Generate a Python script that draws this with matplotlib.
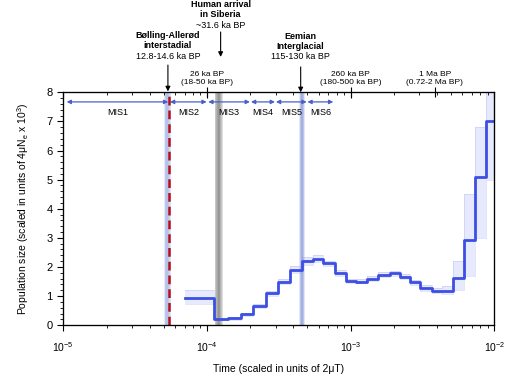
import numpy as np
import matplotlib
matplotlib.use("Agg")
from matplotlib import pyplot as plt
from matplotlib.ticker import MultipleLocator, LogLocator, NullFormatter, NullLocator

plt.rcParams['font.family'] = ['Liberation Sans', 'DejaVu Sans']
plt.rcParams['mathtext.fontset'] = 'custom'
plt.rcParams['mathtext.rm'] = 'Liberation Sans'
plt.rcParams['mathtext.it'] = 'Liberation Sans:italic'
plt.rcParams['mathtext.bf'] = 'Liberation Sans:bold'

# ---------------------------------------------------------
# data
# ---------------------------------------------------------

# start of each step (scaled time, 2uT) and the population size on it
step_t = [7.03e-5, 1.124e-4, 1.406e-4, 1.724e-4, 2.10e-4, 2.574e-4, 3.134e-4,
          3.781e-4, 4.56e-4, 5.49e-4, 6.45e-4, 7.77e-4, 9.27e-4, 1.089e-3,
          1.292e-3, 1.556e-3, 1.877e-3, 2.203e-3, 2.587e-3, 3.036e-3,
          3.662e-3, 4.298e-3, 5.176e-3, 6.143e-3, 7.328e-3, 8.70e-3]
t_end = 1e-2
ne = [0.92, 0.20, 0.23, 0.37, 0.66, 1.09, 1.49, 1.91, 2.20, 2.29, 2.12, 1.78,
      1.53, 1.50, 1.60, 1.74, 1.78, 1.66, 1.47, 1.28, 1.18, 1.19, 1.63, 2.92,
      5.08, 7.02]
# spread of the bootstrap curves
boot_lo = [0.72, 0.17, 0.19, 0.31, 0.58, 1.00, 1.40, 1.80, 2.08, 2.18, 2.02,
           1.70, 1.45, 1.44, 1.52, 1.66, 1.70, 1.58, 1.38, 1.18, 1.10, 1.08,
           1.20, 1.70, 3.00, 5.00]
boot_hi = [1.22, 0.24, 0.27, 0.42, 0.74, 1.18, 1.60, 2.02, 2.35, 2.42, 2.22,
           1.88, 1.60, 1.58, 1.68, 1.82, 1.86, 1.75, 1.56, 1.38, 1.28, 1.35,
           2.20, 4.50, 6.80, 8.50]

# marine isotope stages: name, start, end
mis_names = ['MIS1', 'MIS2', 'MIS3', 'MIS4', 'MIS5', 'MIS6']
mis_start = [1.056e-5, 5.53e-5, 1.021e-4, 2.024e-4, 3.02e-4, 5.0e-4]
mis_end = [5.38e-5, 9.95e-5, 1.99e-4, 2.973e-4, 4.94e-4, 7.57e-4]
mis_y = 7.67

# events
bolling_band = (5.0e-5, 5.6e-5)
bolling_line = 5.45e-5
human_band = (1.13e-4, 1.29e-4)
eemian_band = (4.37e-4, 4.81e-4)

event_t = [5.35e-5, 1.245e-4, 4.49e-4]
event_title = ['Bølling-Allerød\ninterstadial', 'Human arrival\nin Siberia',
               'Eemian\nInterglacial']
event_date = ['12.8-14.6 ka BP', '~31.6 ka BP', '115-130 ka BP']
# vertical placement (axes fraction): title centre, date centre, arrow tail, arrow tip
event_title_y = [1.222, 1.356, 1.218]
event_date_y = [1.152, 1.289, 1.152]
event_tail_y = [1.117, 1.259, 1.109]
event_tip_y = [1.004, 1.152, 1.0]

# top axis labels
top_t = [1e-4, 1e-3, 3.85e-3]
top_labels = ['26 ka BP\n(18-50 ka BP)', '260 ka BP\n(180-500 ka BP)',
              '1 Ma BP\n(0.72-2 Ma BP)']

# ---------------------------------------------------------
# figure
# ---------------------------------------------------------
fig = plt.figure(figsize=(5.06, 3.83), dpi=100)
ax = fig.add_axes([0.125, 0.151, 0.852, 0.608])
ax.set_xscale('log')
ax.set_xlim(1e-5, 1e-2)
ax.set_ylim(0, 8)

# shaded bands
def gradient_span(lo, hi, color, n=6, alpha=0.22):
    c = np.sqrt(lo * hi)
    for k in range(n):
        f = (k + 1) / n
        ax.axvspan(c * (lo / c) ** f, c * (hi / c) ** f, color=color,
                   alpha=alpha, lw=0, zorder=1)

gradient_span(*bolling_band, '#9fb0e6', n=4, alpha=0.3)
gradient_span(*human_band, '#707070', n=5, alpha=0.22)
gradient_span(*eemian_band, '#7f94d8', n=5, alpha=0.22)
ax.axvline(bolling_line, color='#b3101e', lw=1.8, ls=(0, (3.5, 2)), zorder=2)

# bootstrap spread and main PSMC curve
xs = list(step_t) + [t_end]
ax.fill_between(xs, list(boot_lo) + [boot_lo[-1]], list(boot_hi) + [boot_hi[-1]],
                step='post', color='#8a97f0', alpha=0.2, lw=0, zorder=2)
ax.step(xs, list(boot_lo) + [boot_lo[-1]], where='post', color='#8a97f0',
        lw=0.5, alpha=0.35, zorder=2)
ax.step(xs, list(boot_hi) + [boot_hi[-1]], where='post', color='#8a97f0',
        lw=0.5, alpha=0.35, zorder=2)
ax.step(xs, list(ne) + [ne[-1]], where='post', color='#3d4fe3', lw=2.0,
        zorder=3)

# MIS arrows
for name, a, b in zip(mis_names, mis_start, mis_end):
    ax.annotate('', xy=(a, mis_y), xytext=(b, mis_y),
                arrowprops=dict(arrowstyle='<|-|>', color='#4a60c6', lw=0.9,
                                mutation_scale=6, shrinkA=0, shrinkB=0))
    ax.text(np.sqrt(a * b), mis_y - 0.2, name, ha='center', va='top',
            fontsize=6.5)

# axes styling
ax.yaxis.set_major_locator(MultipleLocator(1))
ax.yaxis.set_minor_locator(MultipleLocator(0.2))
ax.xaxis.set_major_locator(LogLocator(base=10, numticks=10))
ax.xaxis.set_minor_locator(LogLocator(base=10, subs=np.arange(2, 10), numticks=10))
ax.xaxis.set_minor_formatter(NullFormatter())
ax.tick_params(which='major', direction='out', length=4, width=0.8, labelsize=8)
ax.tick_params(which='minor', direction='out', length=2.2, width=0.6)
ax.tick_params(axis='x', labelsize=7.5, pad=7)
for s in ax.spines.values():
    s.set_linewidth(0.8)

ax.set_xlabel('Time (scaled in units of 2μT)', fontsize=7.5, labelpad=7)
ax.set_ylabel('Population size (scaled in units of 4μN$_\\mathrm{e}$ x 10$^3$)',
              fontsize=7.5, labelpad=11)

# top axis: log ticks pointing inwards
top1 = ax.twiny()
top1.set_xscale('log')
top1.set_xlim(ax.get_xlim())
top1.xaxis.set_major_locator(LogLocator(base=10, numticks=10))
top1.xaxis.set_minor_locator(LogLocator(base=10, subs=np.arange(2, 10), numticks=10))
top1.xaxis.set_major_formatter(NullFormatter())
top1.xaxis.set_minor_formatter(NullFormatter())
top1.tick_params(which='major', direction='in', length=4, width=0.8)
top1.tick_params(which='minor', direction='in', length=2.2, width=0.6)

# top axis: labelled ages
top2 = ax.twiny()
top2.set_xscale('log')
top2.set_xlim(ax.get_xlim())
top2.set_xticks(top_t, labels=top_labels)
top2.xaxis.set_minor_locator(NullLocator())
top2.tick_params(which='major', direction='inout', length=7, width=0.8,
                 labelsize=6, pad=1)
for lab in top2.get_xticklabels():
    lab.set_linespacing(1.2)

# event arrows and texts
tr = ax.get_xaxis_transform()
for i, t in enumerate(event_t):
    ax.annotate('', xy=(t, event_tip_y[i]), xytext=(t, event_tail_y[i]),
                xycoords=tr, textcoords=tr,
                arrowprops=dict(arrowstyle='-|>', color='k', lw=0.8,
                                mutation_scale=7, shrinkA=0, shrinkB=0),
                annotation_clip=False)
    ax.text(t, event_date_y[i], event_date[i], transform=tr, ha='center',
            va='center', fontsize=6.5, clip_on=False)
    ax.text(t, event_title_y[i], event_title[i], transform=tr,
            ha='center', va='center', fontsize=6.5, fontweight='bold',
            linespacing=1.2, clip_on=False)

fig.savefig('out.png', dpi=100)
